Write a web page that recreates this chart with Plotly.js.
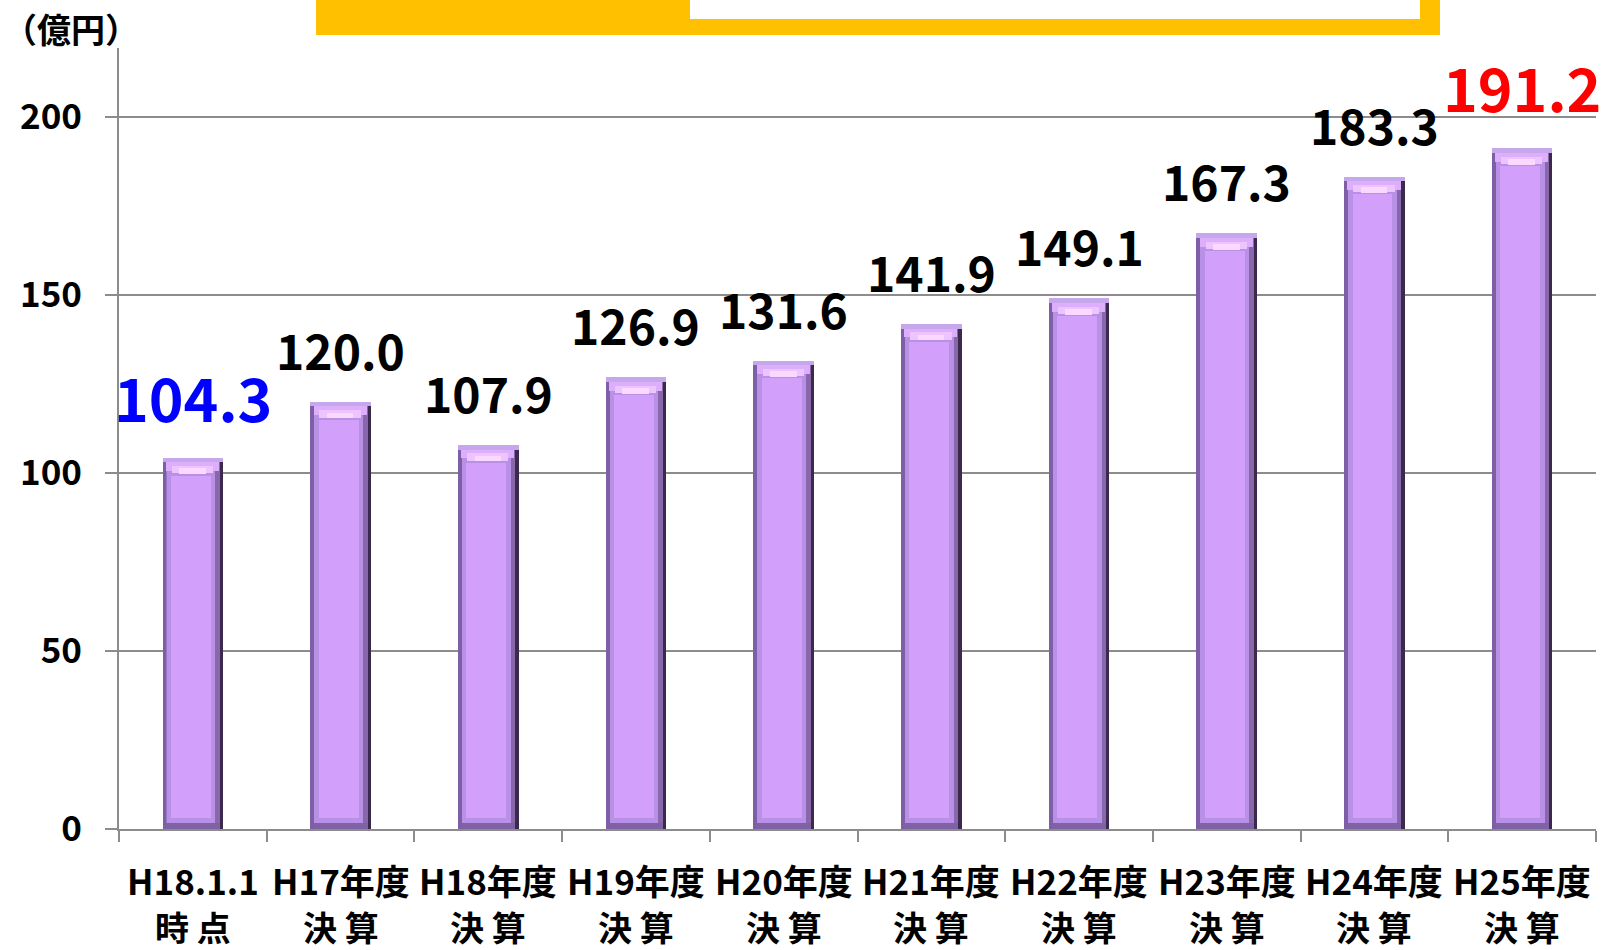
<!DOCTYPE html>
<html>
<head>
<meta charset="utf-8">
<script src="https://cdn.plot.ly/plotly-3.0.1.min.js"></script>
<style>
html,body{margin:0;padding:0;background:#fff;}
#chart{width:1606px;height:950px;}
</style>
</head>
<body>
<div id="chart"></div>
<script>
// ---- data ----
const categories = ["H18.1.1 時点","H17年度 決算","H18年度 決算","H19年度 決算","H20年度 決算","H21年度 決算","H22年度 決算","H23年度 決算","H24年度 決算","H25年度 決算"];
const labelLine1 = ["H18.1.1","H17年度","H18年度","H19年度","H20年度","H21年度","H22年度","H23年度","H24年度","H25年度"];
const labelLine2 = ["時点","決算","決算","決算","決算","決算","決算","決算","決算","決算"];
const values = [104.3, 120.0, 107.9, 126.9, 131.6, 141.9, 149.1, 167.3, 183.3, 191.2];
const valueLabels = ["104.3","120.0","107.9","126.9","131.6","141.9","149.1","167.3","183.3","191.2"];
const yTickVals = [0, 50, 100, 150, 200];
const yTickText = ["0","50","100","150","200"];
const unitLabel = "（億円）";

// ---- styles ----
const FONT = '"Noto Sans CJK JP", "Noto Sans", sans-serif';
const labelColor = i => (i === 0 ? "#0000FF" : (i === values.length - 1 ? "#FF0000" : "#000000"));
const labelSize = i => (i === 0 || i === values.length - 1 ? 59 : 48);
const BW = 0.41;

function layer(color, props) {
  return Object.assign({
    type: "bar", x: categories, hoverinfo: "skip", showlegend: false,
    marker: {color: color, line: {width: 0}}
  }, props);
}

const traces = [
  // body
  layer("#9a78c8", {y: values, width: BW, offset: -BW/2}),
  // left strips
  layer("#7e5fa6", {y: values, width: 0.026, offset: -BW/2}),
  // right strips
  layer("#8868aa", {y: values, width: 0.034, offset: BW/2 - 0.056}),
  layer("#3b2a4e", {y: values, width: 0.022, offset: BW/2 - 0.022}),
  // inner light bands
  layer("#b890e6", {y: values.map(v => v - 5), base: 1.8, width: 0.33, offset: -0.178}),
  layer("#d2a0fa", {y: values.map(v => v - 8), base: 3, width: 0.27, offset: -0.148}),
  // bottom band
  layer("#7f62a6", {y: values.map(() => 1.8), base: 0, width: BW - 0.048, offset: -BW/2 + 0.026}),
  // top bevel (stepped trapezoid)
  layer("#dcaefc", {y: values.map(() => 2.5), base: values.map(v => v - 3.8), width: 0.36, offset: -0.183}),
  layer("#eec4ff", {y: values.map(() => 2.0), base: values.map(v => v - 4.4), width: 0.28, offset: -0.143}),
  layer("#fbd8ff", {y: values.map(() => 1.6), base: values.map(v => v - 4.6), width: 0.18, offset: -0.093}),
  // top rim
  layer("#c7a7ec", {y: values.map(() => 1.3), base: values.map(v => v - 1.3), width: BW, offset: -BW/2})
];

const annotations = values.map((v, i) => ({
  x: categories[i], y: v, xref: "x", yref: "y",
  text: valueLabels[i], showarrow: false, yanchor: "bottom",
  yshift: i === 0 || i === values.length - 1 ? 17 : 16,
  font: {family: FONT, size: labelSize(i), color: labelColor(i), weight: 700}
}));
labelLine1.forEach((t, i) => annotations.push({
  x: categories[i], xref: "x", yref: "paper", y: -0.0653, yanchor: "middle",
  text: t, showarrow: false, borderpad: 0,
  font: {family: FONT, size: 35, color: "#000", weight: 700}
}));
labelLine2.forEach((t, i) => annotations.push({
  x: categories[i], xref: "x", yref: "paper", y: -0.1248, yanchor: "middle",
  text: t.split("").join(" "), showarrow: false, borderpad: 0,
  font: {family: FONT, size: 34, color: "#000", weight: 700}
}));
annotations.push({
  xref: "paper", yref: "paper", x: -0.0792, y: 1.0256, xanchor: "left", yanchor: "middle",
  text: unitLabel, showarrow: false, borderpad: 0,
  font: {family: FONT, size: 34, color: "#000", weight: 700}
});

const layout = {
  width: 1606, height: 950,
  margin: {l: 119, r: 10, t: 48, b: 121, pad: 0},
  paper_bgcolor: "#ffffff", plot_bgcolor: "#ffffff",
  barmode: "overlay", bargap: 0,
  hovermode: false,
  font: {family: FONT, color: "#000"},
  xaxis: {
    type: "category", tickson: "boundaries", ticks: "outside", ticklen: 11, tickwidth: 2,
    tickcolor: "#8c8c8c", showline: true, linecolor: "#8c8c8c", linewidth: 2,
    showgrid: false, zeroline: false, range: [-0.5, 9.5], showticklabels: false,
    fixedrange: true
  },
  yaxis: {
    range: [0, 219.4], tickvals: yTickVals, ticktext: yTickText,
    ticks: "outside", ticklen: 12, tickwidth: 2, tickcolor: "#8c8c8c",
    showline: true, linecolor: "#8c8c8c", linewidth: 2,
    showgrid: true, gridcolor: "#8c8c8c", gridwidth: 2, zeroline: false,
    tickfont: {family: FONT, size: 35, color: "#000", weight: 700},
    ticklabelstandoff: 16, fixedrange: true
  },
  shapes: [
    {type: "rect", xref: "paper", yref: "paper", x0: 0.1334, x1: 0.8944, y0: 1.0166, y1: 1.07,
     fillcolor: "#FFC000", line: {width: 0}, layer: "above"},
    {type: "rect", xref: "paper", yref: "paper", x0: 0.3866, x1: 0.8808, y0: 1.0371, y1: 1.07,
     fillcolor: "#FFFFFF", line: {width: 0}, layer: "above"}
  ],
  annotations: annotations
};

Plotly.newPlot("chart", traces, layout, {displayModeBar: false, staticPlot: true});
</script>
</body>
</html>
